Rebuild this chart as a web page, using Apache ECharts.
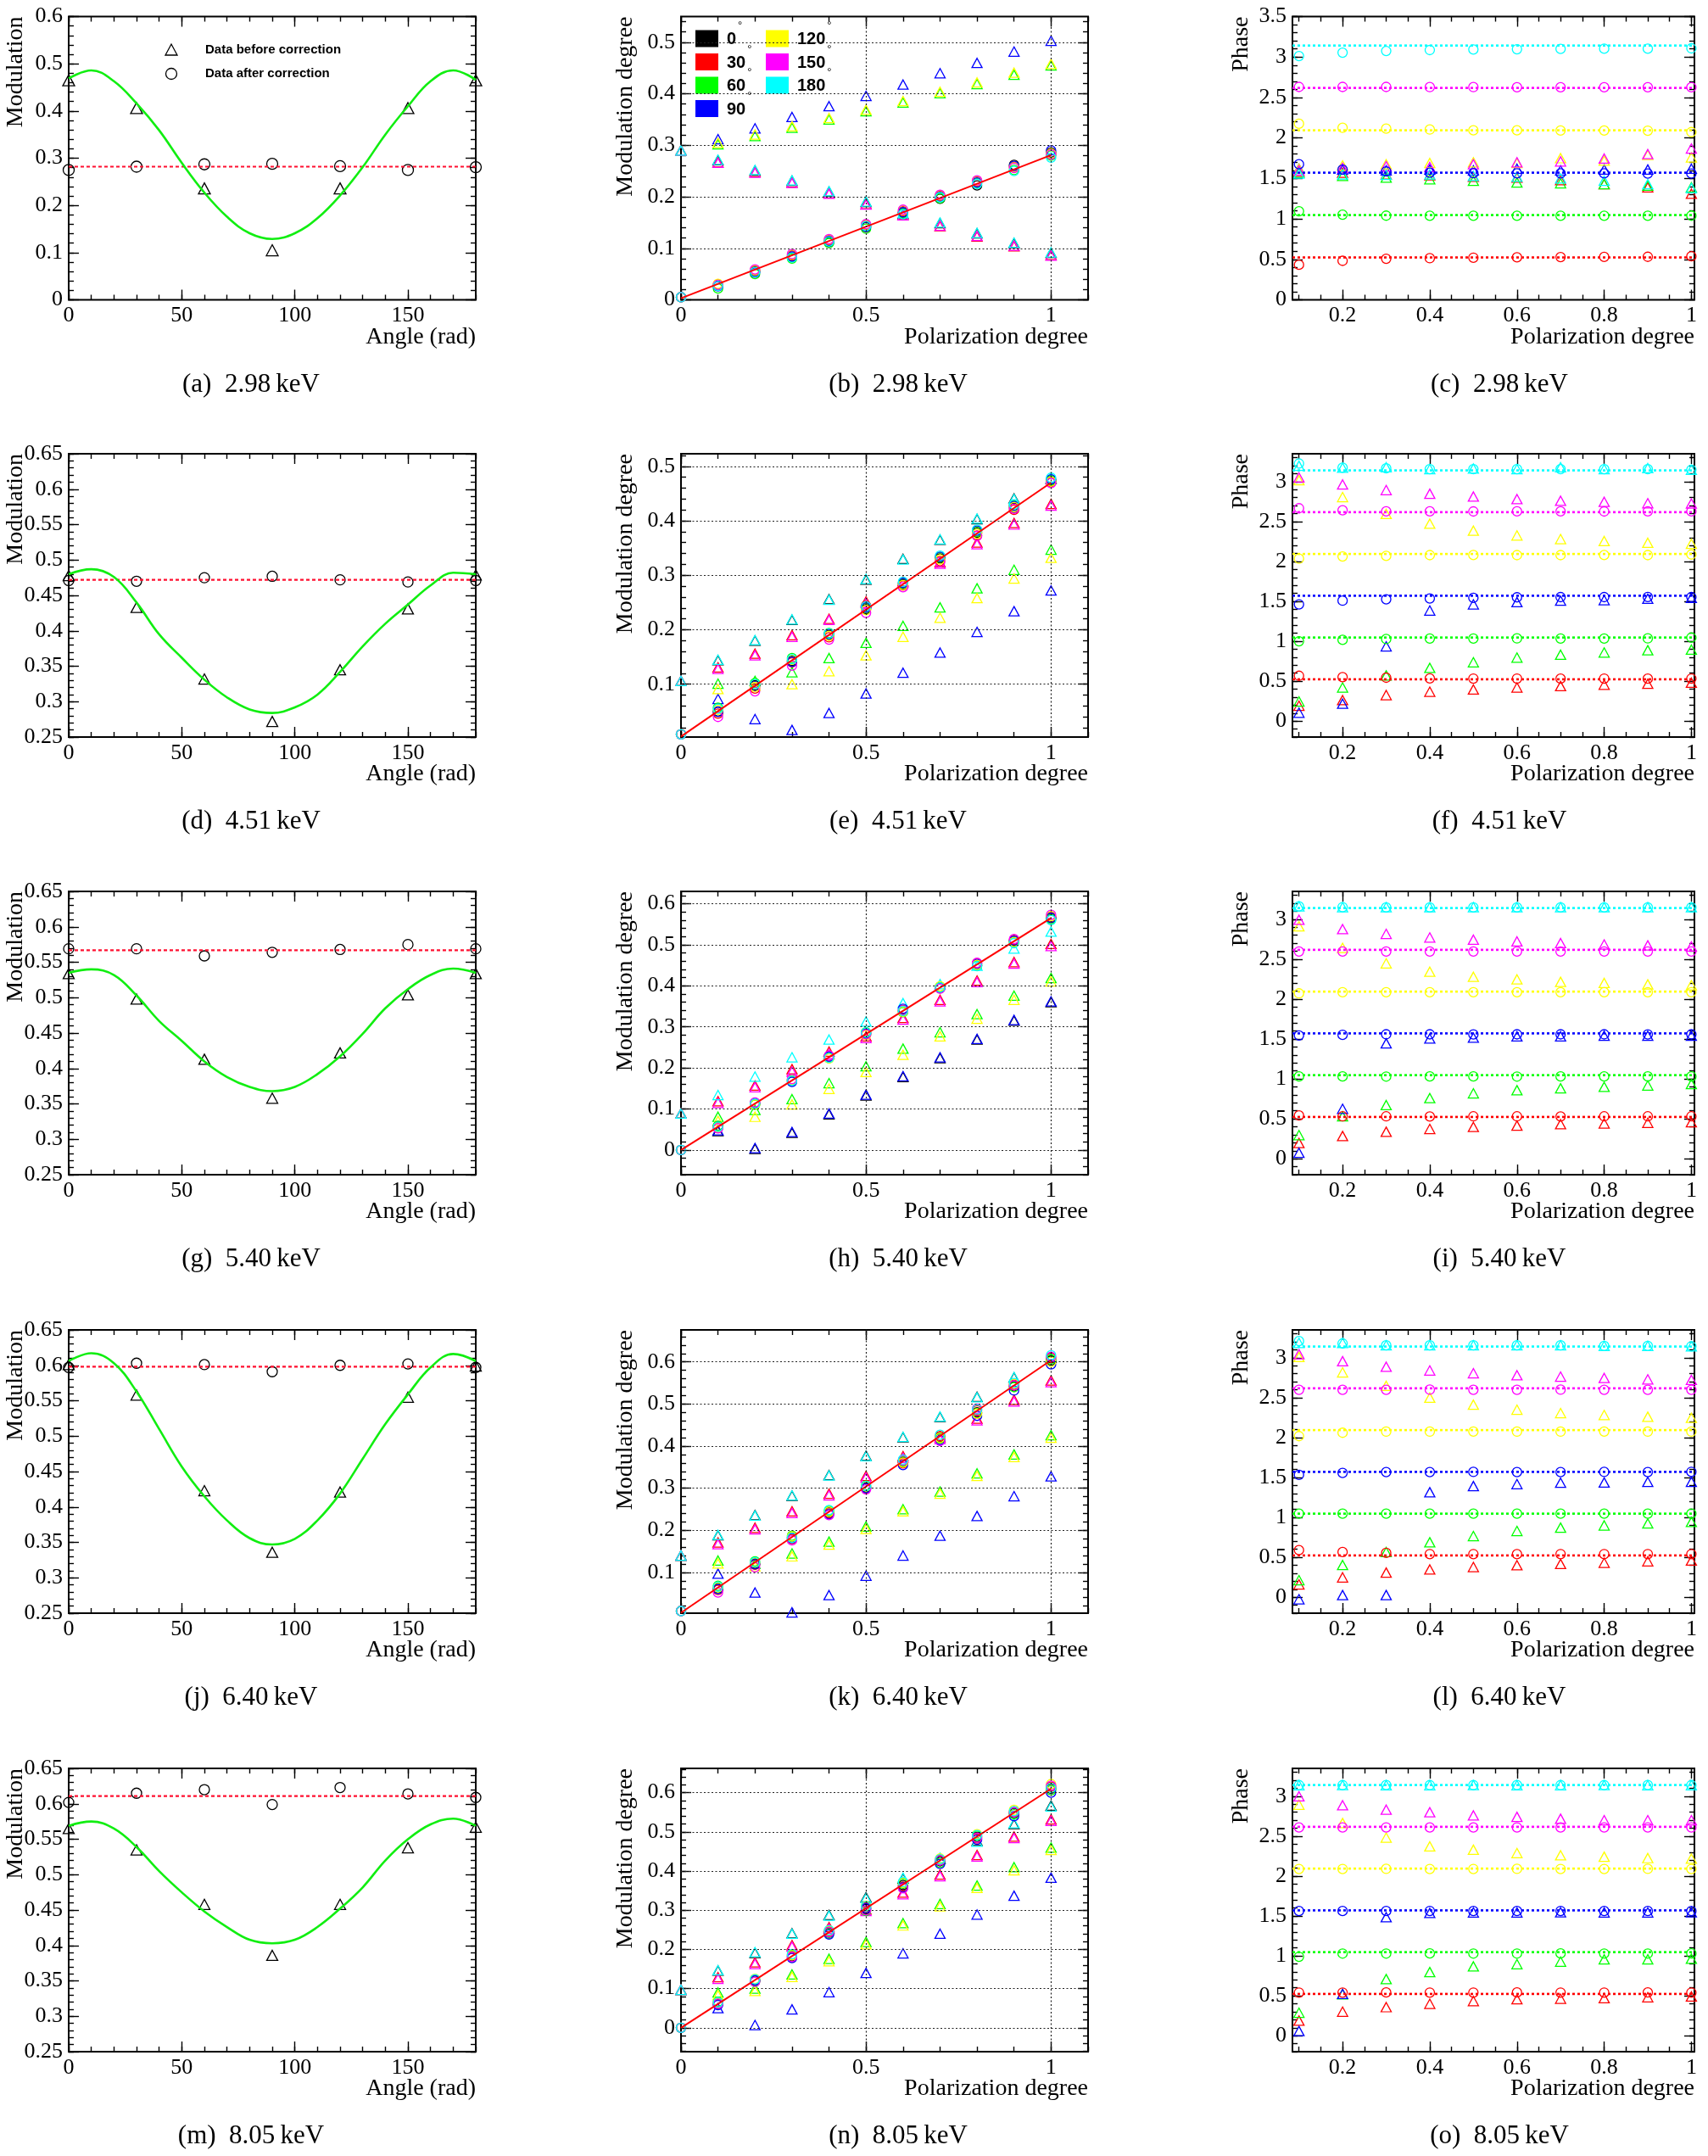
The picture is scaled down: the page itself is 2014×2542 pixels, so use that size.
<!DOCTYPE html>
<html>
<head>
<meta charset="utf-8">
<script src="https://cdn.jsdelivr.net/npm/echarts@6.0.0/dist/echarts.min.js"></script>
<style>
  html, body { margin: 0; background: #fff; }
  #chart { width: 2014px; height: 2542px; }
</style>
</head>
<body>
<div id="chart"></div>
<script>
// polarisation angles of the beam, one ROOT colour each
const angleNames = ['0', '30', '60', '90', '120', '150', '180']
const angleColors = ['#000000', '#ff0000', '#00ff00', '#0000ff', '#ffff00', '#ff00ff', '#00ffff']
const phaseColors = ['#ff0000', '#00ff00', '#0000ff', '#ffff00', '#ff00ff', '#00ffff']
const phaseLevels = [0.5236, 1.0472, 1.5708, 2.0944, 2.618, 3.1416]
const energies = ['2.98', '4.51', '5.40', '6.40', '8.05']
const letters = ['a', 'b', 'c', 'd', 'e', 'f', 'g', 'h', 'i', 'j', 'k', 'l', 'm', 'n', 'o']

const angleX = [0, 30, 60, 90, 120, 150, 180]
const curveX = [0, 10, 20, 30, 40, 50, 60, 70, 80, 90, 100, 110, 120, 130, 140, 150, 160, 170, 180]
const polX = [0, 0.1, 0.2, 0.3, 0.4, 0.5, 0.6, 0.7, 0.8, 0.9, 1]
const phaseX = [0.1, 0.2, 0.3, 0.4, 0.5, 0.6, 0.7, 0.8, 0.9, 1]

// tick labels
const angleTicks = [0, 50, 100, 150]
const modTopTicks = [0, 0.1, 0.2, 0.3, 0.4, 0.5, 0.6]
const modTicks = [0.25, 0.3, 0.35, 0.4, 0.45, 0.5, 0.55, 0.6, 0.65]
const polTicks = [0, 0.5, 1]
const phaseXTicks = [0.2, 0.4, 0.6, 0.8, 1]
const phaseTopTicks = [0, 0.5, 1, 1.5, 2, 2.5, 3, 3.5]
const phaseTicks = [0, 0.5, 1, 1.5, 2, 2.5, 3]

// ---- modulation vs angle (before: triangles, after: circles) ----
const aBefore = [0.465, 0.406, 0.236, 0.105, 0.236, 0.406, 0.465]
const aAfter = [0.275, 0.282, 0.287, 0.288, 0.283, 0.275, 0.281]
const aLevel = 0.282
const aCurve = [0.469, 0.486, 0.463, 0.416, 0.359, 0.290, 0.227, 0.176, 0.141, 0.129, 0.141, 0.173, 0.221, 0.281, 0.350, 0.410, 0.463, 0.486, 0.466]

const dBefore = [0.478, 0.433, 0.332, 0.272, 0.345, 0.431, 0.479]
const dAfter = [0.471, 0.470, 0.475, 0.477, 0.472, 0.469, 0.471]
const dLevel = 0.472
const dCurve = [0.480, 0.487, 0.476, 0.440, 0.395, 0.362, 0.331, 0.306, 0.289, 0.284, 0.292, 0.310, 0.342, 0.378, 0.410, 0.437, 0.464, 0.482, 0.480]

const gBefore = [0.534, 0.498, 0.413, 0.358, 0.422, 0.504, 0.534]
const gAfter = [0.569, 0.569, 0.559, 0.564, 0.568, 0.575, 0.569]
const gLevel = 0.567
const gCurve = [0.535, 0.540, 0.532, 0.503, 0.467, 0.439, 0.410, 0.388, 0.374, 0.368, 0.374, 0.392, 0.417, 0.449, 0.485, 0.512, 0.532, 0.541, 0.535]

const jBefore = [0.601, 0.558, 0.423, 0.336, 0.421, 0.555, 0.599]
const jAfter = [0.597, 0.603, 0.601, 0.591, 0.600, 0.602, 0.597]
const jLevel = 0.598
const jCurve = [0.606, 0.617, 0.603, 0.563, 0.510, 0.457, 0.415, 0.381, 0.356, 0.347, 0.355, 0.381, 0.419, 0.468, 0.517, 0.559, 0.597, 0.616, 0.606]

const mBefore = [0.565, 0.535, 0.458, 0.386, 0.458, 0.538, 0.567]
const mAfter = [0.602, 0.615, 0.620, 0.599, 0.623, 0.614, 0.609]
const mLevel = 0.611
const mCurve = [0.569, 0.575, 0.565, 0.539, 0.505, 0.475, 0.448, 0.426, 0.408, 0.403, 0.408, 0.426, 0.452, 0.482, 0.520, 0.550, 0.571, 0.579, 0.569]

// ---- modulation degree vs polarization degree, order: 0,30,60,90,120,150,180 ----
const bTri = [
  [0.290, 0.271, 0.251, 0.231, 0.210, 0.190, 0.167, 0.149, 0.129, 0.110, 0.091],
  [0.290, 0.267, 0.248, 0.228, 0.207, 0.186, 0.165, 0.143, 0.123, 0.104, 0.087],
  [0.290, 0.302, 0.318, 0.334, 0.350, 0.366, 0.383, 0.401, 0.419, 0.437, 0.455],
  [0.290, 0.312, 0.333, 0.355, 0.376, 0.396, 0.418, 0.440, 0.460, 0.482, 0.503],
  [0.290, 0.305, 0.321, 0.337, 0.353, 0.369, 0.386, 0.404, 0.422, 0.441, 0.458],
  [0.290, 0.266, 0.247, 0.227, 0.206, 0.185, 0.164, 0.144, 0.124, 0.105, 0.086],
  [0.290, 0.272, 0.252, 0.232, 0.211, 0.191, 0.168, 0.150, 0.130, 0.111, 0.092]
]
const bCirc = [
  [0.005, 0.028, 0.055, 0.083, 0.112, 0.141, 0.169, 0.196, 0.222, 0.262, 0.286],
  [0.005, 0.030, 0.057, 0.086, 0.116, 0.145, 0.172, 0.202, 0.230, 0.258, 0.283],
  [0.005, 0.022, 0.050, 0.080, 0.110, 0.138, 0.168, 0.197, 0.226, 0.252, 0.280],
  [0.005, 0.026, 0.053, 0.084, 0.114, 0.142, 0.170, 0.200, 0.228, 0.260, 0.290],
  [0.005, 0.031, 0.058, 0.088, 0.117, 0.146, 0.174, 0.203, 0.231, 0.257, 0.284],
  [0.005, 0.029, 0.059, 0.089, 0.118, 0.147, 0.175, 0.204, 0.232, 0.256, 0.282],
  [0.005, 0.027, 0.054, 0.082, 0.113, 0.143, 0.166, 0.199, 0.225, 0.250, 0.276]
]
const bFit = [0.003, 0.281]

const eTri = [
  [0.106, 0.144, 0.180, 0.218, 0.256, 0.292, 0.330, 0.365, 0.403, 0.441, 0.477],
  [0.106, 0.131, 0.156, 0.190, 0.220, 0.252, 0.289, 0.324, 0.360, 0.396, 0.431],
  [0.106, 0.101, 0.106, 0.122, 0.148, 0.176, 0.207, 0.241, 0.276, 0.310, 0.347],
  [0.106, 0.073, 0.036, 0.016, 0.047, 0.083, 0.121, 0.158, 0.196, 0.234, 0.272],
  [0.106, 0.091, 0.097, 0.100, 0.124, 0.153, 0.187, 0.222, 0.258, 0.294, 0.332],
  [0.106, 0.128, 0.153, 0.187, 0.218, 0.249, 0.286, 0.321, 0.357, 0.393, 0.428],
  [0.106, 0.145, 0.181, 0.219, 0.255, 0.293, 0.329, 0.366, 0.404, 0.440, 0.479]
]
const eCirc = [
  [0.008, 0.050, 0.098, 0.143, 0.190, 0.238, 0.283, 0.331, 0.378, 0.424, 0.473],
  [0.008, 0.046, 0.092, 0.140, 0.186, 0.244, 0.281, 0.326, 0.373, 0.420, 0.471],
  [0.008, 0.057, 0.102, 0.148, 0.194, 0.240, 0.285, 0.333, 0.380, 0.428, 0.474],
  [0.008, 0.049, 0.096, 0.141, 0.192, 0.241, 0.286, 0.334, 0.382, 0.427, 0.476],
  [0.008, 0.053, 0.095, 0.145, 0.189, 0.236, 0.282, 0.329, 0.376, 0.425, 0.472],
  [0.008, 0.040, 0.087, 0.134, 0.182, 0.231, 0.278, 0.324, 0.372, 0.422, 0.469],
  [0.008, 0.055, 0.100, 0.146, 0.193, 0.243, 0.288, 0.336, 0.384, 0.430, 0.479]
]
const eFit = [0.004, 0.470]

const hTri = [
  [0.089, 0.046, 0.003, 0.042, 0.087, 0.133, 0.178, 0.224, 0.269, 0.315, 0.360],
  [0.089, 0.119, 0.157, 0.197, 0.240, 0.277, 0.322, 0.366, 0.413, 0.458, 0.502],
  [0.089, 0.081, 0.098, 0.124, 0.163, 0.204, 0.247, 0.287, 0.331, 0.376, 0.419],
  [0.089, 0.048, 0.005, 0.044, 0.089, 0.135, 0.180, 0.226, 0.271, 0.317, 0.362],
  [0.089, 0.071, 0.081, 0.111, 0.149, 0.190, 0.232, 0.277, 0.320, 0.366, 0.411],
  [0.089, 0.115, 0.153, 0.191, 0.234, 0.273, 0.318, 0.362, 0.409, 0.454, 0.497],
  [0.089, 0.134, 0.179, 0.226, 0.269, 0.313, 0.358, 0.404, 0.449, 0.491, 0.532]
]
const hCirc = [
  [0.000, 0.058, 0.112, 0.170, 0.226, 0.285, 0.338, 0.397, 0.450, 0.508, 0.565],
  [0.000, 0.054, 0.115, 0.172, 0.229, 0.281, 0.341, 0.394, 0.455, 0.512, 0.568],
  [0.000, 0.059, 0.110, 0.168, 0.224, 0.287, 0.336, 0.398, 0.449, 0.506, 0.562],
  [0.000, 0.056, 0.114, 0.166, 0.228, 0.283, 0.344, 0.395, 0.453, 0.510, 0.566],
  [0.000, 0.055, 0.111, 0.171, 0.223, 0.280, 0.337, 0.399, 0.451, 0.507, 0.570],
  [0.000, 0.053, 0.116, 0.173, 0.230, 0.282, 0.340, 0.393, 0.456, 0.514, 0.573],
  [0.000, 0.057, 0.113, 0.169, 0.225, 0.286, 0.339, 0.396, 0.448, 0.504, 0.560]
]
const hFit = [0.0, 0.565]

const kTri = [
  [0.140, 0.188, 0.236, 0.282, 0.331, 0.377, 0.421, 0.469, 0.517, 0.563, 0.610],
  [0.140, 0.171, 0.206, 0.245, 0.287, 0.329, 0.376, 0.421, 0.465, 0.510, 0.556],
  [0.140, 0.128, 0.120, 0.145, 0.173, 0.209, 0.250, 0.292, 0.335, 0.380, 0.426],
  [0.140, 0.097, 0.052, 0.005, 0.046, 0.092, 0.140, 0.187, 0.234, 0.281, 0.328],
  [0.140, 0.121, 0.114, 0.138, 0.166, 0.203, 0.245, 0.287, 0.329, 0.374, 0.420],
  [0.140, 0.167, 0.202, 0.241, 0.283, 0.325, 0.372, 0.417, 0.461, 0.506, 0.552],
  [0.140, 0.189, 0.235, 0.283, 0.330, 0.376, 0.422, 0.470, 0.516, 0.564, 0.612]
]
const kCirc = [
  [0.008, 0.062, 0.121, 0.183, 0.243, 0.302, 0.362, 0.421, 0.480, 0.542, 0.603],
  [0.008, 0.058, 0.118, 0.179, 0.240, 0.299, 0.359, 0.424, 0.485, 0.546, 0.610],
  [0.008, 0.068, 0.126, 0.187, 0.246, 0.306, 0.364, 0.418, 0.478, 0.540, 0.606],
  [0.008, 0.060, 0.119, 0.181, 0.238, 0.300, 0.355, 0.414, 0.472, 0.532, 0.594],
  [0.008, 0.064, 0.123, 0.185, 0.244, 0.304, 0.361, 0.420, 0.477, 0.548, 0.600],
  [0.008, 0.052, 0.112, 0.176, 0.236, 0.297, 0.366, 0.412, 0.489, 0.544, 0.612],
  [0.008, 0.066, 0.124, 0.182, 0.248, 0.305, 0.368, 0.427, 0.487, 0.550, 0.616]
]
const kFit = [0.004, 0.604]

const nTri = [
  [0.097, 0.146, 0.191, 0.241, 0.288, 0.333, 0.381, 0.431, 0.477, 0.520, 0.567],
  [0.097, 0.129, 0.167, 0.211, 0.257, 0.302, 0.345, 0.391, 0.441, 0.488, 0.532],
  [0.097, 0.090, 0.100, 0.136, 0.176, 0.219, 0.267, 0.316, 0.363, 0.410, 0.460],
  [0.097, 0.050, 0.007, 0.047, 0.091, 0.140, 0.190, 0.240, 0.289, 0.337, 0.383],
  [0.097, 0.083, 0.094, 0.130, 0.170, 0.213, 0.261, 0.310, 0.357, 0.402, 0.454],
  [0.097, 0.125, 0.163, 0.207, 0.253, 0.298, 0.341, 0.387, 0.437, 0.484, 0.528],
  [0.097, 0.147, 0.193, 0.240, 0.286, 0.331, 0.383, 0.434, 0.475, 0.522, 0.565]
]
const nCirc = [
  [0.000, 0.060, 0.120, 0.183, 0.243, 0.303, 0.364, 0.425, 0.487, 0.548, 0.610],
  [0.000, 0.063, 0.123, 0.180, 0.246, 0.308, 0.360, 0.429, 0.483, 0.552, 0.615],
  [0.000, 0.066, 0.118, 0.186, 0.240, 0.298, 0.368, 0.421, 0.490, 0.545, 0.606],
  [0.000, 0.058, 0.121, 0.178, 0.238, 0.305, 0.358, 0.418, 0.480, 0.540, 0.600],
  [0.000, 0.064, 0.125, 0.185, 0.248, 0.311, 0.370, 0.432, 0.494, 0.556, 0.622],
  [0.000, 0.061, 0.117, 0.181, 0.244, 0.300, 0.356, 0.427, 0.485, 0.550, 0.618],
  [0.000, 0.065, 0.124, 0.188, 0.249, 0.310, 0.372, 0.430, 0.492, 0.553, 0.612]
]
const nFit = [0.0, 0.61]

// ---- phase vs polarization degree, order: 30,60,90,120,150,180 ----
const cTri = [
  [1.58, 1.57, 1.55, 1.54, 1.52, 1.51, 1.48, 1.43, 1.39, 1.31],
  [1.57, 1.53, 1.51, 1.49, 1.47, 1.45, 1.44, 1.43, 1.41, 1.39],
  [1.62, 1.61, 1.60, 1.61, 1.60, 1.62, 1.60, 1.61, 1.61, 1.62],
  [1.62, 1.66, 1.675, 1.69, 1.70, 1.69, 1.75, 1.72, 1.79, 1.76],
  [1.60, 1.63, 1.65, 1.64, 1.675, 1.70, 1.71, 1.745, 1.80, 1.87],
  [1.56, 1.55, 1.545, 1.55, 1.53, 1.52, 1.50, 1.47, 1.43, 1.38]
]
const cCirc = [
  [0.433, 0.482, 0.507, 0.514, 0.521, 0.526, 0.528, 0.530, 0.532, 0.538],
  [1.094, 1.052, 1.040, 1.038, 1.038, 1.038, 1.038, 1.038, 1.038, 1.040],
  [1.675, 1.610, 1.587, 1.570, 1.565, 1.563, 1.562, 1.562, 1.561, 1.560],
  [2.175, 2.125, 2.115, 2.104, 2.094, 2.094, 2.092, 2.092, 2.090, 2.072],
  [2.630, 2.630, 2.630, 2.628, 2.628, 2.627, 2.627, 2.627, 2.627, 2.627],
  [3.012, 3.054, 3.075, 3.086, 3.093, 3.096, 3.100, 3.103, 3.103, 3.107]
]

const fTri = [
  [0.193, 0.263, 0.326, 0.368, 0.396, 0.421, 0.439, 0.456, 0.467, 0.481],
  [0.246, 0.421, 0.572, 0.667, 0.737, 0.796, 0.832, 0.860, 0.888, 0.895],
  [0.105, 0.218, 0.937, 1.386, 1.463, 1.491, 1.509, 1.516, 1.533, 1.544],
  [3.018, 2.807, 2.596, 2.474, 2.386, 2.326, 2.281, 2.256, 2.235, 2.221],
  [3.053, 2.965, 2.895, 2.849, 2.814, 2.782, 2.761, 2.747, 2.730, 2.726],
  [3.200, 3.175, 3.180, 3.158, 3.165, 3.158, 3.180, 3.158, 3.170, 3.150]
]
const fCirc = [
  [0.568, 0.551, 0.544, 0.535, 0.533, 0.533, 0.532, 0.533, 0.532, 0.533],
  [1.000, 1.018, 1.028, 1.035, 1.035, 1.036, 1.035, 1.035, 1.036, 1.046],
  [1.463, 1.509, 1.526, 1.537, 1.544, 1.551, 1.554, 1.554, 1.555, 1.554],
  [2.035, 2.063, 2.070, 2.080, 2.081, 2.080, 2.080, 2.081, 2.080, 2.088],
  [2.667, 2.642, 2.628, 2.628, 2.627, 2.628, 2.628, 2.627, 2.628, 2.628],
  [3.228, 3.175, 3.168, 3.158, 3.158, 3.157, 3.158, 3.158, 3.157, 3.150]
]

const iTri = [
  [0.197, 0.285, 0.338, 0.373, 0.398, 0.415, 0.433, 0.443, 0.450, 0.457],
  [0.296, 0.531, 0.672, 0.760, 0.820, 0.859, 0.883, 0.901, 0.918, 0.936],
  [0.074, 0.626, 1.446, 1.506, 1.517, 1.534, 1.534, 1.541, 1.541, 1.541],
  [2.913, 2.643, 2.449, 2.343, 2.280, 2.248, 2.217, 2.203, 2.185, 2.175],
  [2.994, 2.878, 2.818, 2.773, 2.745, 2.723, 2.702, 2.685, 2.674, 2.660],
  [3.163, 3.153, 3.153, 3.152, 3.153, 3.152, 3.153, 3.152, 3.153, 3.152]
]
const iCirc = [
  [0.542, 0.531, 0.531, 0.530, 0.531, 0.531, 0.530, 0.531, 0.531, 0.531],
  [1.031, 1.031, 1.030, 1.031, 1.031, 1.030, 1.031, 1.031, 1.031, 1.031],
  [1.545, 1.552, 1.559, 1.559, 1.558, 1.559, 1.559, 1.559, 1.558, 1.559],
  [2.072, 2.087, 2.087, 2.086, 2.087, 2.087, 2.087, 2.086, 2.087, 2.087],
  [2.597, 2.597, 2.596, 2.597, 2.597, 2.597, 2.596, 2.597, 2.597, 2.597],
  [3.163, 3.153, 3.150, 3.150, 3.150, 3.150, 3.150, 3.150, 3.150, 3.150]
]

const lTri = [
  [0.161, 0.249, 0.309, 0.348, 0.379, 0.401, 0.418, 0.432, 0.450, 0.460],
  [0.214, 0.404, 0.566, 0.689, 0.767, 0.830, 0.872, 0.900, 0.925, 0.943],
  [-0.025, 0.027, 0.027, 1.316, 1.393, 1.418, 1.435, 1.438, 1.445, 1.445],
  [3.011, 2.818, 2.649, 2.501, 2.413, 2.350, 2.308, 2.284, 2.262, 2.248],
  [3.046, 2.958, 2.888, 2.842, 2.807, 2.782, 2.765, 2.747, 2.730, 2.723],
  [3.187, 3.187, 3.158, 3.158, 3.158, 3.158, 3.158, 3.150, 3.150, 3.145]
]
const lCirc = [
  [0.590, 0.566, 0.555, 0.541, 0.541, 0.540, 0.541, 0.541, 0.541, 0.541],
  [1.048, 1.048, 1.048, 1.047, 1.048, 1.048, 1.047, 1.048, 1.048, 1.048],
  [1.533, 1.558, 1.569, 1.569, 1.570, 1.569, 1.569, 1.570, 1.569, 1.572],
  [2.019, 2.061, 2.075, 2.075, 2.076, 2.075, 2.075, 2.076, 2.075, 2.075],
  [2.600, 2.600, 2.600, 2.601, 2.600, 2.600, 2.601, 2.600, 2.600, 2.600],
  [3.210, 3.180, 3.158, 3.158, 3.158, 3.158, 3.158, 3.150, 3.150, 3.145]
]

const oTri = [
  [0.189, 0.302, 0.358, 0.400, 0.435, 0.457, 0.464, 0.471, 0.482, 0.492],
  [0.288, 0.520, 0.710, 0.798, 0.869, 0.897, 0.929, 0.957, 0.957, 0.964],
  [0.059, 0.524, 1.485, 1.538, 1.545, 1.545, 1.546, 1.545, 1.545, 1.546],
  [2.895, 2.666, 2.483, 2.373, 2.331, 2.289, 2.261, 2.243, 2.226, 2.219],
  [3.000, 2.888, 2.832, 2.800, 2.761, 2.743, 2.719, 2.701, 2.701, 2.701],
  [3.140, 3.141, 3.140, 3.140, 3.141, 3.140, 3.140, 3.141, 3.140, 3.140]
]
const oCirc = [
  [0.541, 0.541, 0.542, 0.541, 0.541, 0.542, 0.541, 0.541, 0.542, 0.541],
  [0.990, 1.030, 1.030, 1.031, 1.030, 1.030, 1.031, 1.030, 1.030, 1.031],
  [1.563, 1.563, 1.563, 1.564, 1.563, 1.563, 1.564, 1.563, 1.563, 1.563],
  [2.090, 2.090, 2.091, 2.090, 2.090, 2.091, 2.090, 2.090, 2.091, 2.090],
  [2.610, 2.610, 2.611, 2.610, 2.610, 2.611, 2.610, 2.610, 2.611, 2.610],
  [3.140, 3.140, 3.141, 3.140, 3.140, 3.141, 3.140, 3.140, 3.141, 3.140]
]

// ---------------- layout ----------------
const serif = '"Liberation Serif", "Times New Roman", serif'
const sans = '"Liberation Sans", Arial, sans-serif'
const colLeft = [81, 803, 1524]
const colWidth = [480, 480, 474]
const rowTop = [19.5, 535, 1051, 1568, 2085]
const plotH = 334
const captionX = [296, 1059, 1768]
const yTitleX = [19, 738, 1464]

const fmt = v => String(Math.round(v * 1000) / 1000)

function stepsIn(min, max, step) {
  const out = []
  for (let k = Math.ceil(min / step - 1e-6); k * step <= max + 1e-6; k++) out.push(+(k * step).toFixed(4))
  return out
}

const grids = [], xAxes = [], yAxes = [], series = [], graphics = []

function addFrame(row, col, xr, yr) {
  const g = grids.length
  grids.push({
    left: colLeft[col], top: rowTop[row], width: colWidth[col], height: plotH,
    show: true, borderColor: '#000', borderWidth: 2, backgroundColor: 'rgba(0,0,0,0)',
    outerBoundsMode: 'none', containLabel: false
  })
  const mk = (dim, side, r, vals, len, labels) => ({
    type: 'value', gridIndex: g, position: side, min: r.min, max: r.max,
    axisLine: { show: false, onZero: false },
    splitLine: { show: false },
    axisTick: { show: true, inside: true, length: len, customValues: vals, lineStyle: { color: '#000', width: 1.4 } },
    axisLabel: labels ? {
      show: true, customValues: labels, margin: dim === 'x' ? 6 : 7,
      color: '#000', fontFamily: serif, fontSize: 26, formatter: fmt
    } : { show: false }
  })
  xAxes.push(mk('x', 'bottom', xr, xr.labels, 12, xr.labels), mk('x', 'bottom', xr, xr.minor, 6),
             mk('x', 'top', xr, xr.labels, 12), mk('x', 'top', xr, xr.minor, 6))
  yAxes.push(mk('y', 'left', yr, yr.labels, 12, yr.labels), mk('y', 'left', yr, yr.minor, 6),
             mk('y', 'right', yr, yr.labels, 12), mk('y', 'right', yr, yr.minor, 6))

  // titles and caption
  const bottom = rowTop[row] + plotH
  const i = row * 3 + col
  graphics.push({
    type: 'text', x: colLeft[col] + colWidth[col], y: bottom + 44, silent: true,
    style: { text: col === 0 ? 'Angle (rad)' : 'Polarization degree', font: '28px ' + serif, fill: '#000', align: 'right', verticalAlign: 'middle' }
  })
  graphics.push({
    type: 'text', x: yTitleX[col], y: rowTop[row], rotation: Math.PI / 2, silent: true,
    style: { text: ['Modulation', 'Modulation degree', 'Phase'][col], font: '28px ' + serif, fill: '#000', align: 'right', verticalAlign: 'middle' }
  })
  graphics.push({
    type: 'text', x: captionX[col], y: bottom + 100, silent: true,
    style: { text: '(' + letters[i] + ')  ' + energies[row] + '\u2009keV', font: '31px ' + serif, fill: '#000', align: 'center', verticalAlign: 'middle' }
  })
  return g
}

function marks(g, xs, ys, color, symbol, size) {
  series.push({
    type: 'scatter', xAxisIndex: 4 * g, yAxisIndex: 4 * g, symbol, symbolSize: size,
    data: xs.map((x, k) => [x, ys[k]]), silent: true, animation: false, z: 3,
    itemStyle: { color: 'rgba(0,0,0,0)', borderColor: color, borderWidth: 1.3, opacity: 1 }
  })
}

function line(g, pts, color, width, type, smooth) {
  series.push({
    type: 'line', xAxisIndex: 4 * g, yAxisIndex: 4 * g, data: pts, showSymbol: false, symbol: 'none',
    smooth: smooth || false, silent: true, animation: false, z: 4,
    lineStyle: { color, width, type }
  })
}

function gridLines(g, xs, ys) {
  series.push({
    type: 'line', xAxisIndex: 4 * g, yAxisIndex: 4 * g, data: [], silent: true, animation: false, z: 1,
    markLine: {
      silent: true, symbol: ['none', 'none'], animation: false, label: { show: false },
      emphasis: { disabled: true },
      lineStyle: { color: '#222', type: [2, 2.5], width: 1.2 },
      data: ys.map(v => ({ yAxis: v })).concat(xs.map(v => ({ xAxis: v })))
    }
  })
}

// ---------- column 1: modulation vs angle ----------
const angleRows = [
  { before: aBefore, after: aAfter, level: aLevel, curve: aCurve },
  { before: dBefore, after: dAfter, level: dLevel, curve: dCurve },
  { before: gBefore, after: gAfter, level: gLevel, curve: gCurve },
  { before: jBefore, after: jAfter, level: jLevel, curve: jCurve },
  { before: mBefore, after: mAfter, level: mLevel, curve: mCurve }
]
angleRows.forEach((p, row) => {
  const xr = { min: 0, max: 180, labels: angleTicks, minor: stepsIn(0, 180, 10) }
  const yr = row === 0
    ? { min: 0, max: 0.6, labels: modTopTicks, minor: stepsIn(0, 0.6, 0.02) }
    : { min: 0.25, max: 0.65, labels: modTicks, minor: stepsIn(0.25, 0.65, 0.01) }
  const g = addFrame(row, 0, xr, yr)
  const sz = row === 0 ? 14 : 13
  marks(g, angleX, p.before, '#000', 'triangle', [sz, sz - 1])
  marks(g, angleX, p.after, '#000', 'circle', sz - 1)
  line(g, [[0, p.level], [180, p.level]], '#ff1030', 2.2, [4, 3])
  line(g, curveX.map((x, k) => [x, p.curve[k]]), '#11ee11', 2.6, 'solid', 0.4)
})

// ---------- column 2: modulation degree vs polarization degree ----------
const modRows = [
  { tri: bTri, circ: bCirc, fit: bFit, min: 0, max: 0.55, labels: [0, 0.1, 0.2, 0.3, 0.4, 0.5] },
  { tri: eTri, circ: eCirc, fit: eFit, min: 0.003, max: 0.523, labels: [0.1, 0.2, 0.3, 0.4, 0.5] },
  { tri: hTri, circ: hCirc, fit: hFit, min: -0.06, max: 0.63, labels: [0, 0.1, 0.2, 0.3, 0.4, 0.5, 0.6] },
  { tri: kTri, circ: kCirc, fit: kFit, min: 0.003, max: 0.676, labels: [0.1, 0.2, 0.3, 0.4, 0.5, 0.6] },
  { tri: nTri, circ: nCirc, fit: nFit, min: -0.061, max: 0.662, labels: [0, 0.1, 0.2, 0.3, 0.4, 0.5, 0.6] }
]
modRows.forEach((p, row) => {
  const xr = { min: 0, max: 1.1, labels: polTicks, minor: stepsIn(0, 1.1, 0.1) }
  const yr = { min: p.min, max: p.max, labels: p.labels, minor: stepsIn(p.min, p.max, 0.02) }
  const g = addFrame(row, 1, xr, yr)
  gridLines(g, [0.5, 1], p.labels.filter(v => v > p.min + 1e-6))
  p.tri.forEach((ys, c) => marks(g, polX, ys, angleColors[c], 'triangle', [12, 11]))
  p.circ.forEach((ys, c) => marks(g, polX, ys, angleColors[c], 'circle', 11))
  line(g, [[0, p.fit[0]], [1, p.fit[1]]], '#ff0000', 2, 'solid')
})

// legend of panel (b)
angleNames.forEach((name, k) => {
  const col = k < 4 ? 0 : 1
  const r = k < 4 ? k : k - 4
  const cy = 45.5 + r * 27.5
  const bx = col === 0 ? 820 : 903
  graphics.push({ type: 'rect', silent: true, shape: { x: bx, y: cy - 10, width: 27, height: 20 }, style: { fill: angleColors[k] } })
  graphics.push({ type: 'text', silent: true, x: bx + 37, y: cy + 1, style: { text: name, font: 'bold 20px ' + sans, fill: '#000', align: 'left', verticalAlign: 'middle' } })
  graphics.push({ type: 'text', silent: true, x: bx + 37 + name.length * 11.1 + 2, y: cy - 15, style: { text: '\u00b0', font: '13px ' + sans, fill: '#000', align: 'left', verticalAlign: 'middle' } })
})

// ---------- column 3: phase vs polarization degree ----------
const phaseRows = [
  { tri: cTri, circ: cCirc, min: 0, max: 3.5, labels: phaseTopTicks },
  { tri: fTri, circ: fCirc, min: -0.2, max: 3.35, labels: phaseTicks },
  { tri: iTri, circ: iCirc, min: -0.2, max: 3.35, labels: phaseTicks },
  { tri: lTri, circ: lCirc, min: -0.2, max: 3.35, labels: phaseTicks },
  { tri: oTri, circ: oCirc, min: -0.2, max: 3.35, labels: phaseTicks }
]
phaseRows.forEach((p, row) => {
  const xr = { min: 0.085, max: 1.007, labels: phaseXTicks, minor: stepsIn(0.085, 1.007, 0.05) }
  const yr = { min: p.min, max: p.max, labels: p.labels, minor: stepsIn(p.min, p.max, 0.1) }
  const g = addFrame(row, 2, xr, yr)
  phaseLevels.forEach((lv, c) => line(g, [[0.085, lv], [1.007, lv]], phaseColors[c], 2.6, [3, 3]))
  p.tri.forEach((ys, c) => marks(g, phaseX, ys, phaseColors[c], 'triangle', [12, 11]))
  p.circ.forEach((ys, c) => marks(g, phaseX, ys, phaseColors[c], 'circle', 11))
})

// legend of panel (a)
graphics.push({ type: 'polygon', silent: true, shape: { points: [[195, 65], [209, 65], [202, 52]] }, style: { fill: 'none', stroke: '#000', lineWidth: 1.3 } })
graphics.push({ type: 'circle', silent: true, shape: { cx: 202, cy: 87, r: 6.5 }, style: { fill: 'none', stroke: '#000', lineWidth: 1.3 } })
graphics.push({ type: 'text', silent: true, x: 242, y: 59, style: { text: 'Data before correction', font: 'bold 15px ' + sans, fill: '#000', align: 'left', verticalAlign: 'middle' } })
graphics.push({ type: 'text', silent: true, x: 242, y: 87, style: { text: 'Data after correction', font: 'bold 15px ' + sans, fill: '#000', align: 'left', verticalAlign: 'middle' } })

const chart = echarts.init(document.getElementById('chart'), null, { width: 2014, height: 2542 })
chart.setOption({
  backgroundColor: '#ffffff',
  animation: false,
  textStyle: { fontFamily: serif },
  grid: grids,
  xAxis: xAxes,
  yAxis: yAxes,
  series,
  graphic: graphics
})
</script>
</body>
</html>
